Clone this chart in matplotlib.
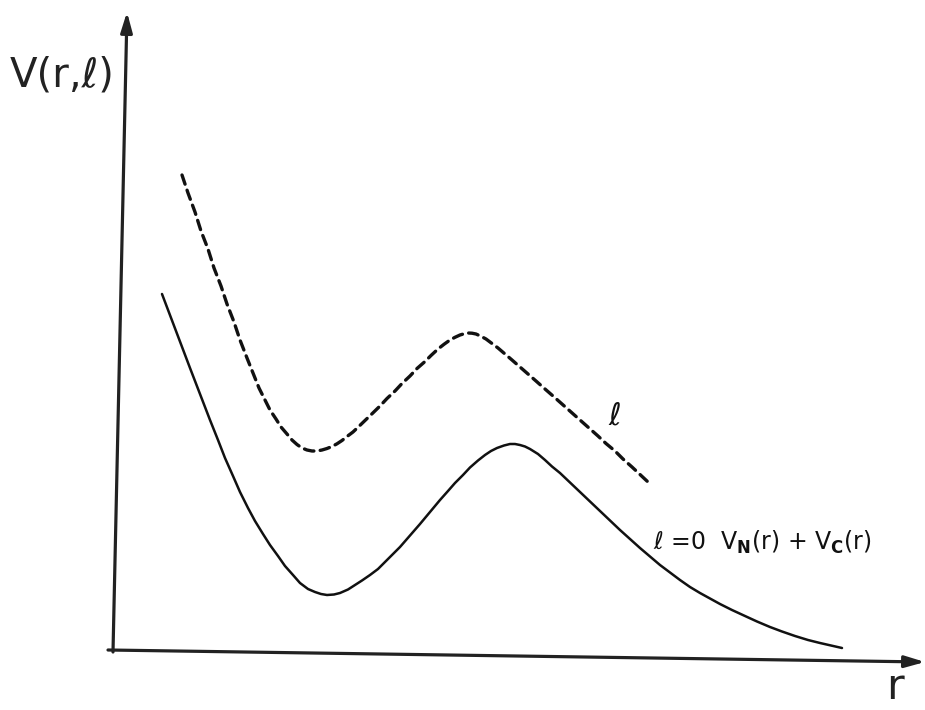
import matplotlib
matplotlib.use("Agg")
import matplotlib.pyplot as plt

# Points, in picture units (r to the right, V downward in the scan)
px_solid = [162, 176, 190, 200, 210, 218, 225, 233, 240, 248, 255, 263, 270, 278, 285,
            293, 300, 308, 315, 321, 327, 334, 340, 348, 355, 362, 370, 378, 385, 392,
            400, 410, 420, 430, 440, 448, 455, 463, 470, 478, 485, 491, 497, 504, 510,
            515, 520, 525, 530, 538, 545, 552, 560, 570, 580, 590, 600, 610, 620, 630,
            640, 650, 660, 670, 680, 690, 700, 710, 720, 732, 745, 757, 770, 782, 795,
            808, 820, 831, 842]
py_solid = [294, 331, 368, 394, 420, 440, 458, 476, 492, 508, 521, 534, 545, 556, 566,
            575, 583, 589, 592, 594, 595, 594.5, 593, 589.5, 585, 580.5, 575, 569, 562, 555,
            547, 535.5, 524, 512, 500, 491, 483, 475, 467.5, 460.5, 455, 451, 448, 445.5, 444,
            444, 445, 446.5, 449, 454, 460, 466.5, 473, 482.5, 492, 501.5, 511, 520.5, 530, 539,
            548, 556.5, 565, 572.5, 580, 587, 593, 598.5, 604, 610, 616, 621.5, 627, 631.5, 636,
            640, 643, 645.5, 648]

px_dash = [182, 188, 195, 201, 208, 214, 221, 227, 234, 240, 247, 253, 259, 265, 270,
           276, 281, 287, 292, 297, 302, 307, 312, 317, 322, 327, 332, 337, 342, 347,
           353, 359, 365, 372, 380, 387, 395, 402, 410, 417, 425, 431, 438, 444, 450,
           455, 460, 464, 468, 472, 476, 481, 486, 492, 498, 505, 512, 520, 528, 536,
           545, 553, 562, 571, 580, 589, 598, 606, 615, 623, 632, 640, 648]
py_dash = [175, 193, 212, 231, 249, 268, 286, 304, 322, 340, 358, 373, 388, 400, 410,
           419, 427, 434, 440, 444.5, 448, 450, 451, 451, 450, 448.5, 446.5, 443.8, 440.5, 436.5,
           432, 426.3, 420.5, 413.8, 406, 398.5, 391, 383.5, 376, 368.5, 361.5, 355.5, 349, 344.3, 340,
           337.3, 335, 333.8, 333, 333.2, 334, 336.3, 339, 343.5, 348, 354, 360, 367, 374, 381,
           389, 396, 404, 412, 420, 428, 436, 443.5, 451, 459, 467, 474.5, 482]

# origin of the drawn axes in picture units
r0, v0 = 113, 652
r_solid = [p - r0 for p in px_solid]
V_solid = [v0 - p for p in py_solid]
r_dash = [p - r0 for p in px_dash]
V_dash = [v0 - p for p in py_dash]

y_label = "V(r,ℓ)"
x_label = "r"
dash_label = "ℓ"
solid_label = r"$\ell$ =0  V$_{\mathbf{N}}$(r) + V$_{\mathbf{C}}$(r)"

fig = plt.figure(figsize=(9.25, 7.1), dpi=100)
ax = fig.add_axes([0, 0, 1, 1])
ax.set_xlim(-113, 812)
ax.set_ylim(-58, 652)
ax.axis("off")

# axes with arrowheads (hand-drawn, slightly tilted)
ax.annotate("", xy=(14, 640), xytext=(0, 0),
            arrowprops=dict(arrowstyle="-|>,head_length=1.2,head_width=0.35",
                            lw=2.3, color="#222222", shrinkA=0, shrinkB=0))
ax.annotate("", xy=(812, -10), xytext=(-5, 2),
            arrowprops=dict(arrowstyle="-|>,head_length=1.2,head_width=0.35",
                            lw=2.3, color="#222222", shrinkA=0, shrinkB=0))

ax.plot(r_solid, V_solid, color="#111111", lw=1.8, solid_capstyle="round",
        solid_joinstyle="round")
ax.plot(r_dash, V_dash, color="#111111", lw=2.4, dashes=(2.9, 1.9),
        dash_capstyle="round")

ax.text(-103, 577, y_label, fontsize=29, ha="left", va="center", color="#222222")
ax.text(782, -47, x_label, fontsize=31, ha="center", va="baseline", color="#222222")
ax.text(502, 236, dash_label, fontsize=22, ha="center", va="center", color="#111111")
ax.text(540, 110, solid_label, fontsize=17, ha="left", va="center", color="#111111")

fig.savefig("out.png", dpi=100)
